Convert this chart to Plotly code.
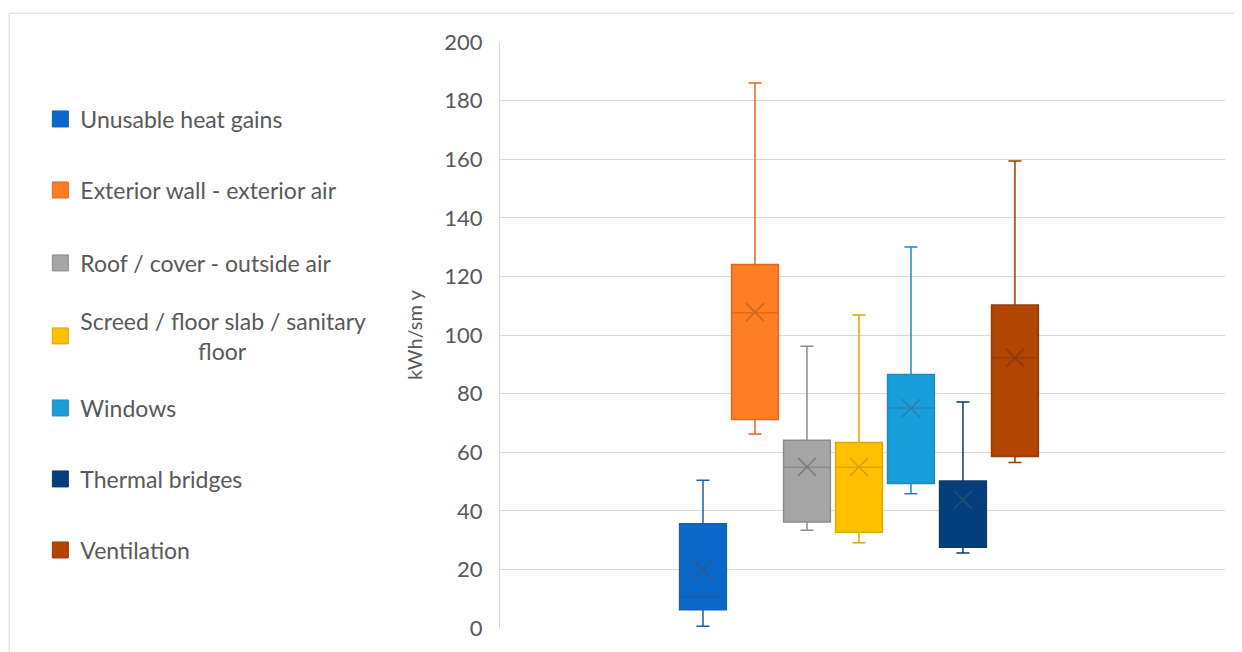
import plotly.graph_objects as go

categories = ["Unusable heat gains", "Exterior wall - exterior air", "Roof / cover - outside air",
              "Screed / floor slab / sanitary floor", "Windows", "Thermal bridges", "Ventilation"]
NB = "\u00a0"
legend_labels = ["Unusable heat gains", "Exterior wall - exterior air", "Roof / cover - outside air",
                 "Screed / floor slab / sanitary<br>" + NB * 20 + "floor", "Windows", "Thermal bridges",
                 "Ventilation"]
lower_whisker = [0.6, 66.2, 33.4, 29.1, 45.8, 25.6, 56.5]
q1 = [6.2, 71.2, 36.2, 32.7, 49.3, 27.6, 58.5]
median = [10.5, 107.6, 54.9, 54.9, 75.1, 43.8, 92.2]
q3 = [35.6, 124.1, 64.1, 63.3, 86.5, 50.2, 110.2]
upper_whisker = [50.4, 186.0, 96.2, 106.8, 130.0, 77.1, 159.4]
mean = [19.8, 107.8, 55.0, 55.0, 75.0, 43.8, 92.2]

fill_colors = ["#0B68C8", "#FD7E23", "#A5A5A5", "#FFC000", "#189ED9", "#033F7E", "#B24500"]
line_colors = ["#1A5FA8", "#E4671A", "#8C8C8C", "#E0A800", "#2388BF", "#0F3A6C", "#983B06"]
mean_colors = ["#2B5A91", "#D0671F", "#7F7F7F", "#D9A21A", "#2F7DAE", "#2A4C75", "#8C3A0C"]

# vertical placement of legend entries (paper fraction of plot height)
legend_y = [0.8686, 0.7474, 0.6229, 0.4983, 0.3754, 0.2543, 0.1331]

TEXT = "#595959"
GRID = "#D9D9D9"
FONT = "Lato"

fig = go.Figure()

for i, cat in enumerate(categories):
    fig.add_trace(go.Box(
        x=[cat], q1=[q1[i]], median=[median[i]], q3=[q3[i]],
        lowerfence=[lower_whisker[i]], upperfence=[upper_whisker[i]],
        width=0.9, whiskerwidth=0.28,
        fillcolor=fill_colors[i], line=dict(color=line_colors[i], width=1.5),
        boxpoints=False, showlegend=False, hoverinfo="skip",
    ))
    fig.add_trace(go.Scatter(
        x=[cat], y=[mean[i]], mode="markers",
        marker=dict(symbol="x-thin", size=18, line=dict(width=1.5, color=mean_colors[i])),
        showlegend=False, hoverinfo="skip",
    ))

legends = {}
for i, lab in enumerate(legend_labels):
    key = "legend" if i == 0 else f"legend{i + 1}"
    fig.add_trace(go.Scatter(
        x=[None], y=[None], mode="markers", name=lab, legend=key,
        marker=dict(symbol="square", size=16, color=fill_colors[i],
                    line=dict(width=1, color=line_colors[i])),
    ))
    legends[key] = dict(x=-0.634, xanchor="left", y=legend_y[i], yanchor="middle",
                        font=dict(family=FONT, size=23, color=TEXT), valign="middle",
                        bgcolor="rgba(0,0,0,0)", itemclick=False, itemdoubleclick=False)

fig.update_layout(
    width=1234, height=644,
    margin=dict(l=492, r=17, t=34, b=24),
    paper_bgcolor="white", plot_bgcolor="white",
    font=dict(family=FONT, color=TEXT, size=18),
    showlegend=True,
    xaxis=dict(type="category", categoryorder="array", categoryarray=categories,
               range=[-3.904, 10.04], showticklabels=False, showgrid=False,
               zeroline=False, showline=False, ticks=""),
    yaxis=dict(range=[0, 200], dtick=20, showgrid=True, gridcolor=GRID, gridwidth=1,
               zeroline=False, showline=True, linecolor=GRID, linewidth=1,
               ticks="", ticklabelstandoff=12,
               tickfont=dict(family=FONT, size=22, color=TEXT),
               title=dict(text="kWh/sm y", font=dict(family=FONT, size=20, color=TEXT), standoff=16)),
    shapes=[dict(type="rect", xref="paper", yref="paper",
                 x0=-0.677, x1=1.019, y0=-0.06, y1=1.049,
                 line=dict(color=GRID, width=1), fillcolor="rgba(0,0,0,0)", layer="below")],
    **legends,
)

fig.write_html("out.html")
